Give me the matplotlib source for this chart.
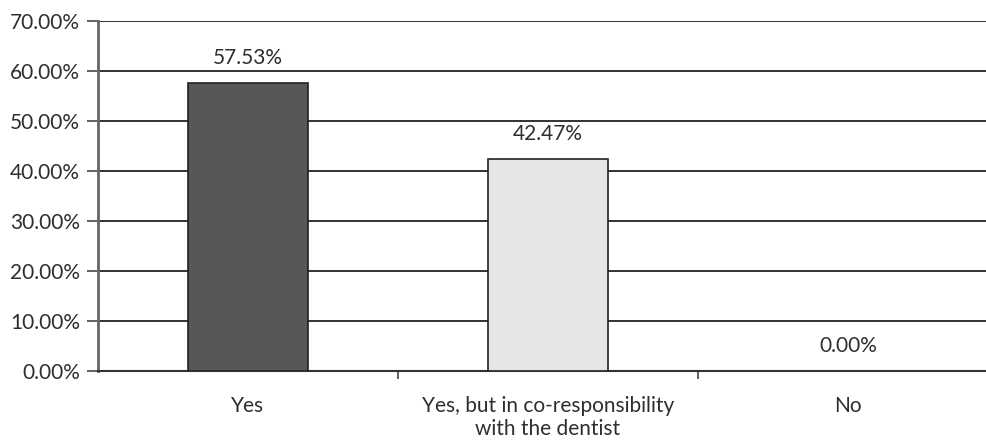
import numpy as np
import matplotlib.pyplot as plt
from matplotlib.ticker import PercentFormatter

categories = ['Yes', 'Yes, but in co-responsibility\nwith the dentist', 'No']
values = [57.53, 42.47, 0.00]
colors = ['#575757', '#e6e6e6', '#ffffff']

plt.rcParams['font.family'] = ['Lato', 'DejaVu Sans']

fig = plt.figure(figsize=(9.86, 4.45), dpi=100)
ax = fig.add_axes([98 / 986, 74 / 445, 900 / 986, 350 / 445])

x = np.arange(len(categories))
bars = ax.bar(x, values, width=0.4, color=colors, edgecolor='#222222', linewidth=1.2, zorder=3)
bars[2].set_visible(False)

# value labels above each bar
for xi, v in zip(x, values):
    ax.text(xi, v + 3.0, f'{v:.2f}%', ha='center', va='bottom', fontsize=15, color='#2e2e2e')

ax.set_ylim(0, 70)
ax.set_xlim(-0.5, 2.5)
ax.set_yticks(np.arange(0, 71, 10))
ax.yaxis.set_major_formatter(PercentFormatter(decimals=2))
ax.yaxis.grid(True, color='#222222', linewidth=1.3, zorder=0)

ax.set_xticks(x)
ax.set_xticklabels(categories, fontsize=15, color='#2e2e2e', linespacing=1.2)
ax.set_xticks([0.5, 1.5], minor=True)
ax.tick_params(axis='x', which='major', length=0, pad=18)
ax.tick_params(axis='x', which='minor', length=6, width=1.3, color='#555555')
ax.tick_params(axis='y', length=8, width=1.3, color='#555555', labelsize=15,
               labelcolor='#2e2e2e', pad=5)

for side in ['top', 'right']:
    ax.spines[side].set_visible(False)
ax.spines['left'].set_color('#666666')
ax.spines['left'].set_linewidth(2)
ax.spines['bottom'].set_color('#333333')
ax.spines['bottom'].set_linewidth(1.5)

fig.savefig('out.png', dpi=100)
